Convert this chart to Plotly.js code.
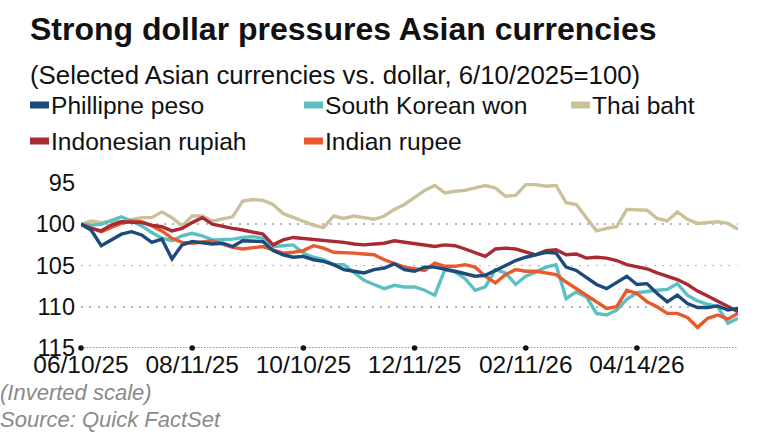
<!DOCTYPE html>
<html>
<head>
<meta charset="utf-8">
<script src="https://cdn.plot.ly/plotly-3.0.1.min.js"></script>
<style>
  html, body { margin: 0; padding: 0; background: #ffffff; }
  #chart { width: 769px; height: 434px; }
</style>
</head>
<body>
<div id="chart"></div>
<script>
// ---- Data (trading-day index since 06/10/25, sampled every 4 trading days) ----
const dayIndex = [0,4,8,12,16,20,24,28,32,36,40,44,48,52,56,60,64,68,72,76,
  80,84,88,92,96,100,104,108,112,116,120,124,128,132,136,140,144,148,152,156,
  160,164,168,172,176,180,184,188,192,196,200,204,208,212,216,220,224,228,232,236,
  240,244,248,252,256,260];

const tickIndex = [0, 44, 88, 132, 176, 220];
const tickLabels = ['06/10/25', '08/11/25', '10/10/25', '12/11/25', '02/11/26', '04/14/26'];
const yTicks = [95, 100, 105, 110, 115];

const seriesNames = ['Phillipne peso', 'South Korean won', 'Thai baht', 'Indonesian rupiah', 'Indian rupee'];
const seriesColors = ['#1d4a7c', '#5cc0c2', '#cbc199', '#a82a33', '#e8592d'];

const peso = [100.0,100.7,102.6,101.9,101.2,100.9,101.3,102.2,101.8,104.2,
  102.5,102.1,102.2,102.4,102.3,102.7,102.0,102.1,102.1,103.2,
  103.7,104.0,103.9,104.3,104.5,104.9,105.5,105.7,105.9,105.5,
  105.3,104.8,105.5,105.7,105.2,105.2,105.4,105.7,106.0,106.3,
  106.2,105.6,105.0,104.4,104.0,103.7,103.4,103.5,105.2,105.6,
  106.5,107.3,107.8,107.1,106.3,107.3,107.2,108.4,109.4,108.6,
  109.6,110.1,110.1,109.9,110.4,110.2];

const won = [100.0,100.1,100.0,99.5,99.1,99.6,100.2,101.0,101.7,102.0,
  101.4,101.1,101.4,101.9,101.9,101.8,101.6,101.5,101.7,102.7,
  102.6,102.5,103.5,104.0,104.3,104.9,104.9,105.9,106.8,107.3,
  107.8,107.4,107.6,107.6,108.0,108.6,105.5,105.8,106.6,108.0,
  107.6,105.5,105.9,107.3,106.3,105.8,105.2,104.9,109.0,108.2,
  108.8,110.8,111.0,110.4,109.1,108.3,108.1,108.0,107.9,107.2,
  108.6,109.3,109.7,110.0,112.0,111.4];

const baht = [100.0,99.6,99.8,99.6,99.7,99.4,99.2,99.2,98.5,99.2,
  100.2,99.0,99.0,99.6,99.4,99.1,97.2,97.0,97.1,97.6,
  98.7,99.2,99.6,100.1,100.4,99.0,99.3,99.0,99.2,99.4,
  99.0,98.2,97.6,96.7,95.9,95.3,96.2,96.0,95.9,95.6,
  95.3,95.6,96.6,96.5,95.2,95.2,95.4,95.3,97.4,97.6,
  99.2,100.8,100.5,100.3,98.2,98.2,98.3,99.3,99.6,98.5,
  99.4,99.9,99.8,99.7,99.9,100.6];

const rupiah = [100.0,100.5,100.8,100.1,99.7,99.7,99.8,100.1,100.3,100.8,
  100.5,99.8,99.2,100.0,100.3,100.5,100.7,100.9,101.2,102.5,
  101.9,101.6,101.7,101.8,101.9,102.0,102.2,102.4,102.5,102.4,
  102.3,102.0,102.2,102.4,102.5,102.7,102.5,102.6,103.0,103.4,
  103.9,103.0,102.9,103.0,103.4,103.7,103.2,103.1,103.7,103.6,
  104.1,104.0,104.1,104.4,104.9,105.2,105.4,105.9,106.3,106.7,
  107.3,108.1,108.7,109.3,109.9,110.6];

const rupee = [100.0,100.5,100.9,100.4,99.9,99.6,99.7,100.2,100.8,101.7,
  102.2,102.3,102.2,102.0,102.4,102.8,103.0,102.8,102.7,103.1,
  103.5,103.4,103.2,102.6,102.9,103.4,103.4,103.5,103.6,103.7,
  104.3,104.8,105.2,105.4,105.6,104.7,105.1,105.1,104.9,105.2,
  106.3,107.1,106.1,105.5,105.7,105.7,105.9,106.1,107.0,107.8,
  108.5,109.4,110.2,110.0,108.0,108.4,109.4,110.0,110.8,110.8,
  111.3,112.5,111.4,111.0,111.5,110.8];

const seriesValues = [peso, won, baht, rupiah, rupee];
const drawOrder = [2, 1, 4, 3, 0]; // baht, won, rupee, rupiah, peso

// ---- Layout geometry ----
const W = 769, H = 434;
const M = { l: 81, r: 31, t: 183, b: 86 };
const PW = W - M.l - M.r, PH = H - M.t - M.b;
const px2x = px => (px - M.l) / PW;
const py2y = py => (H - M.b - py) / PH;
const FONT = 'Liberation Sans, Arial, Helvetica, sans-serif';

const traces = drawOrder.map(i => ({
  type: 'scatter', mode: 'lines',
  x: dayIndex, y: seriesValues[i],
  name: seriesNames[i],
  line: { color: seriesColors[i], width: 3.4, shape: 'linear' },
  hoverinfo: 'skip', showlegend: false
}));

// dots on the baseline at tick positions
traces.push({
  type: 'scatter', mode: 'markers',
  x: tickIndex, y: tickIndex.map(() => yTicks[yTicks.length - 1]),
  marker: { color: '#111', size: 5.5 },
  cliponaxis: false, hoverinfo: 'skip', showlegend: false
});

const annotations = [];
const shapes = [];

// title & subtitle
annotations.push({
  xref: 'paper', yref: 'paper', x: px2x(28), y: py2y(29), xanchor: 'left', yanchor: 'middle',
  text: '<b>Strong dollar pressures Asian currencies</b>', showarrow: false,
  font: { family: FONT, size: 32, color: '#111' }
});
annotations.push({
  xref: 'paper', yref: 'paper', x: px2x(28), y: py2y(75), xanchor: 'left', yanchor: 'middle',
  text: '(Selected Asian currencies vs. dollar, 6/10/2025=100)', showarrow: false,
  font: { family: FONT, size: 25.8, color: '#111' }
});

// custom legend
const legendCols = [30, 304, 571];
const legendRows = [105, 141];
const legendOrder = [0, 1, 2, 3, 4];
legendOrder.forEach((si, k) => {
  const col = legendCols[k % 3], row = legendRows[Math.floor(k / 3)];
  shapes.push({
    type: 'rect', xref: 'paper', yref: 'paper',
    x0: px2x(col), x1: px2x(col + 19), y0: py2y(row - 3.5), y1: py2y(row + 3.5),
    fillcolor: seriesColors[si], line: { width: 0 }
  });
  annotations.push({
    xref: 'paper', yref: 'paper', x: px2x(col + 19), y: py2y(row), xanchor: 'left', yanchor: 'middle',
    text: seriesNames[si], showarrow: false,
    font: { family: FONT, size: 24.6, color: '#111' }
  });
});

// baseline (dotted dark line at the inverted-scale bottom)
shapes.push({
  type: 'line', xref: 'paper', yref: 'y', x0: 0, x1: 1,
  y0: yTicks[yTicks.length - 1], y1: yTicks[yTicks.length - 1],
  line: { color: '#333', width: 1.2, dash: '1.5px,1.5px' }, layer: 'above'
});

// footnotes
annotations.push({
  xref: 'paper', yref: 'paper', x: px2x(-2), y: py2y(392), xanchor: 'left', yanchor: 'middle',
  text: '<i>(Inverted scale)</i>', showarrow: false,
  font: { family: FONT, size: 22, color: '#8a8a8a' }
});
annotations.push({
  xref: 'paper', yref: 'paper', x: px2x(-2), y: py2y(419), xanchor: 'left', yanchor: 'middle',
  text: '<i>Source: Quick FactSet</i>', showarrow: false,
  font: { family: FONT, size: 22, color: '#8a8a8a' }
});

const layout = {
  width: W, height: H,
  margin: M,
  paper_bgcolor: '#ffffff', plot_bgcolor: '#ffffff',
  showlegend: false,
  xaxis: {
    range: [dayIndex[0], dayIndex[dayIndex.length - 1]],
    tickmode: 'array', tickvals: tickIndex, ticktext: tickLabels,
    showgrid: false, zeroline: false, showline: false, ticks: '',
    ticklabelstandoff: -1,
    tickfont: { family: FONT, size: 24.5, color: '#111' },
    fixedrange: true
  },
  yaxis: {
    range: [yTicks[yTicks.length - 1], yTicks[0]],
    tickmode: 'array', tickvals: yTicks, ticktext: yTicks.map(String),
    showgrid: true, gridcolor: '#b5b5b5', gridwidth: 1.6, griddash: '2px,6.3px',
    zeroline: false, showline: false, ticks: '',
    ticklabelstandoff: 5,
    tickfont: { family: FONT, size: 23.5, color: '#111' },
    fixedrange: true
  },
  annotations: annotations,
  shapes: shapes
};

Plotly.newPlot('chart', traces, layout, { staticPlot: true, displayModeBar: false });
</script>
</body>
</html>
